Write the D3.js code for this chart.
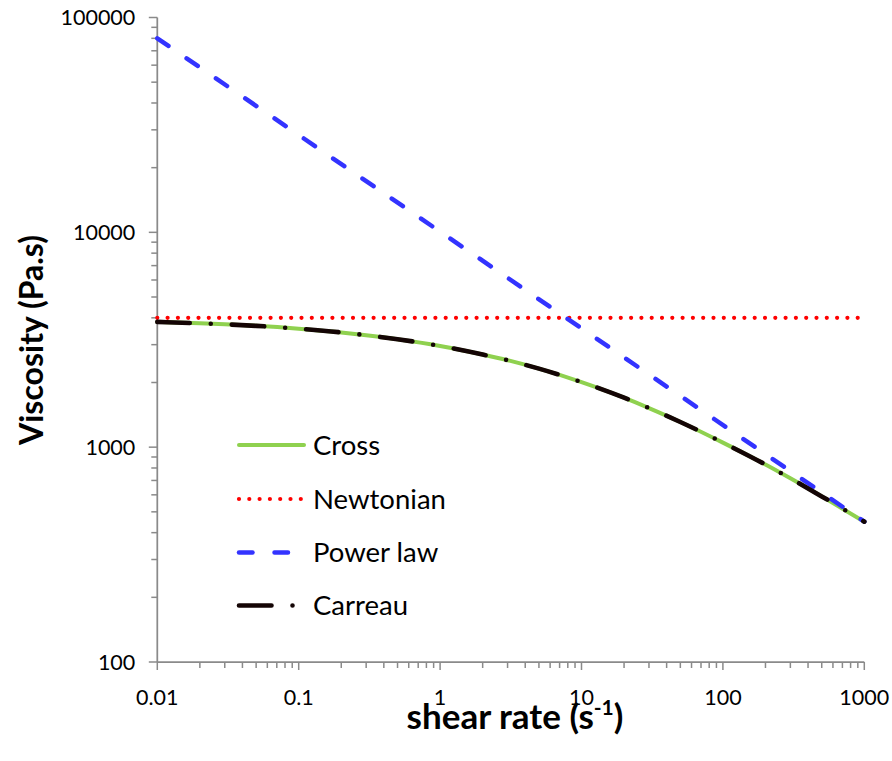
<!DOCTYPE html>
<html>
<head>
<meta charset="utf-8">
<script src="https://cdn.jsdelivr.net/npm/d3@7"></script>
<style>
  html, body { margin: 0; padding: 0; background: #fff; }
  svg { display: block; }
  text { font-family: Lato, "Open Sans", sans-serif; fill: #000; }
</style>
</head>
<body>
<svg id="chart" width="892" height="761"></svg>
<script>
// ---- data ----
const xTickValues = [0.01, 0.1, 1, 10, 100, 1000];
const xTickLabels = ["0.01", "0.1", "1", "10", "100", "1000"];
const yTickValues = [100, 1000, 10000, 100000];
const yTickLabels = ["100", "1000", "10000", "100000"];

const shearRate   = [0.01, 0.02, 0.03, 0.05, 0.1, 0.2, 0.3, 0.5, 1, 2, 3, 5, 10, 20, 30, 50, 100, 200, 300, 500, 1000];
const crossVisc   = [3830, 3770, 3730, 3670, 3560, 3420, 3320, 3180, 2960, 2700, 2540, 2320, 2010, 1700, 1520, 1310, 1050, 830, 716, 590, 450];
const carreauVisc = [3830, 3770, 3730, 3670, 3560, 3420, 3320, 3180, 2960, 2700, 2540, 2320, 2010, 1700, 1520, 1310, 1050, 830, 716, 590, 450];
const newtonRate  = [0.01, 1000];
const newtonVisc  = [4000, 4000];
const powerRate   = [0.01, 1000];
const powerVisc   = [80000, 450];

const seriesNames = ["Cross", "Newtonian", "Power law", "Carreau"];

// ---- layout ----
const svg = d3.select("#chart");
const x = d3.scaleLog().domain([0.01, 1000]).range([157.3, 864.3]);
const y = d3.scaleLog().domain([100, 100000]).range([662, 17.5]);

const axisColor = "#8a8a8a";

// minor ticks
const xMinor = [];
for (let d = 0.01; d < 1000; d *= 10) for (let k = 2; k <= 9; k++) xMinor.push(d * k);
const yMinor = [];
for (let d = 100; d < 100000; d *= 10) for (let k = 2; k <= 9; k++) yMinor.push(d * k);

// X axis
const xAxis = svg.append("g").attr("transform", "translate(0,662)");
xAxis.append("line").attr("x1", x(0.01)).attr("x2", x(1000)).attr("y1", 0).attr("y2", 0)
  .attr("stroke", axisColor).attr("stroke-width", 1.75);
xAxis.selectAll("line.minor").data(xMinor).enter().append("line").attr("class", "minor")
  .attr("x1", d => x(d)).attr("x2", d => x(d)).attr("y1", 0).attr("y2", 6)
  .attr("stroke", axisColor).attr("stroke-width", 1.5);
xAxis.selectAll("line.major").data(xTickValues).enter().append("line").attr("class", "major")
  .attr("x1", d => x(d)).attr("x2", d => x(d)).attr("y1", 0).attr("y2", 8)
  .attr("stroke", axisColor).attr("stroke-width", 1.5);
xAxis.selectAll("text").data(xTickValues).enter().append("text")
  .attr("x", d => x(d)).attr("y", 42.5).attr("text-anchor", "middle")
  .attr("font-size", 21.5).text((d, i) => xTickLabels[i]);

// Y axis
const yAxis = svg.append("g").attr("transform", "translate(157.3,0)");
yAxis.append("line").attr("x1", 0).attr("x2", 0).attr("y1", y(100000)).attr("y2", y(100))
  .attr("stroke", axisColor).attr("stroke-width", 1.75);
yAxis.selectAll("line.minor").data(yMinor).enter().append("line").attr("class", "minor")
  .attr("y1", d => y(d)).attr("y2", d => y(d)).attr("x1", 0).attr("x2", -6)
  .attr("stroke", axisColor).attr("stroke-width", 1.5);
yAxis.selectAll("line.major").data(yTickValues).enter().append("line").attr("class", "major")
  .attr("y1", d => y(d)).attr("y2", d => y(d)).attr("x1", 0).attr("x2", -8.5)
  .attr("stroke", axisColor).attr("stroke-width", 1.5);
yAxis.selectAll("text").data(yTickValues).enter().append("text")
  .attr("x", -22).attr("y", d => y(d)).attr("dy", "0.36em").attr("text-anchor", "end")
  .attr("font-size", 21.5).text((d, i) => yTickLabels[i]);

// ---- series ----
const line = d3.line().x(d => x(d[0])).y(d => y(d[1])).curve(d3.curveMonotoneX);
const zip = (a, b) => a.map((v, i) => [v, b[i]]);

const styles = {
  "Cross":     { color: "#8fd14f", width: 4,   dash: null,               cap: "round" },
  "Newtonian": { color: "#ff0000", width: 4.2, dash: "0,10.3",           cap: "round" },
  "Power law": { color: "#3333ff", width: 4.5, dash: "13.5,22",          cap: "round" },
  "Carreau":   { color: "#140505", width: 4.6, dash: "32.5,21,0,21",     cap: "round" }
};
const seriesData = {
  "Cross": zip(shearRate, crossVisc),
  "Newtonian": zip(newtonRate, newtonVisc),
  "Power law": zip(powerRate, powerVisc),
  "Carreau": zip(shearRate, carreauVisc)
};
const plot = svg.append("g");
["Cross", "Newtonian", "Power law", "Carreau"].forEach(name => {
  const s = styles[name];
  plot.append("path").datum(seriesData[name]).attr("d", line)
    .attr("fill", "none").attr("stroke", s.color).attr("stroke-width", s.width)
    .attr("stroke-linecap", s.cap).attr("stroke-dasharray", s.dash);
});

// ---- legend ----
const legend = svg.append("g");
const legendY = [445, 499, 552.5, 605.5];
seriesNames.forEach((name, i) => {
  const s = styles[name];
  const g = legend.append("g").attr("transform", `translate(0,${legendY[i]})`);
  g.append("line").attr("x1", 239).attr("x2", 304).attr("y1", 0).attr("y2", 0)
    .attr("stroke", s.color).attr("stroke-width", s.width)
    .attr("stroke-linecap", s.cap).attr("stroke-dasharray", s.dash);
  g.append("text").attr("x", 313).attr("y", 0).attr("dy", "0.36em")
    .attr("font-size", 27.5).text(name);
});

// ---- axis titles ----
const xt = svg.append("text").attr("x", 515).attr("y", 729).attr("text-anchor", "middle")
  .attr("font-size", 35).attr("font-weight", "bold");
xt.append("tspan").text("shear rate (s");
xt.append("tspan").attr("font-size", 21).attr("dy", -14).text("-1");
xt.append("tspan").attr("dy", 14).text(")");

svg.append("text").attr("transform", "translate(43,340) rotate(-90)")
  .attr("text-anchor", "middle").attr("font-size", 32).attr("font-weight", "bold")
  .text("Viscosity (Pa.s)");
</script>
</body>
</html>
